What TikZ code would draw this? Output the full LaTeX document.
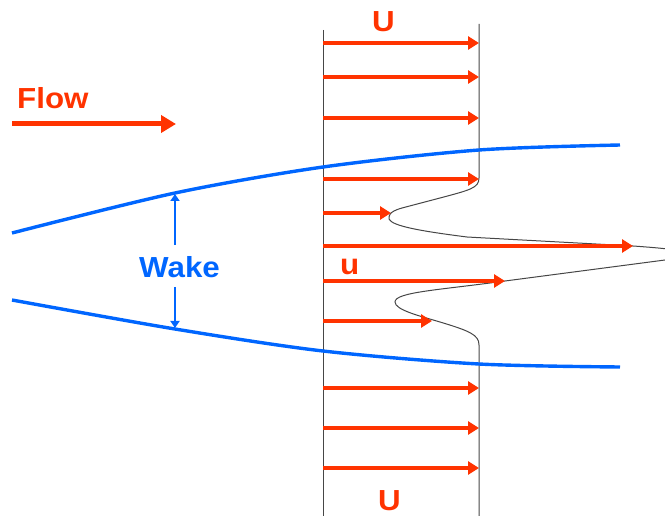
\documentclass[tikz,border=0pt]{standalone}
\usepackage{fontspec}
\setmainfont[FakeStretch=1.08]{Liberation Sans}
\usetikzlibrary{arrows.meta}
\definecolor{flowred}{RGB}{255,51,0}
\definecolor{wakeblue}{RGB}{0,102,255}
\definecolor{prof}{RGB}{70,70,70}
\tikzset{
  vel/.style={draw=flowred,line width=3.6pt,-{Triangle[length=11pt,width=13pt]}},
  flowarrow/.style={draw=flowred,line width=5pt,-{Triangle[length=15pt,width=17pt]}},
  edge/.style={draw=wakeblue,line width=3.4pt},
  wakearr/.style={draw=wakeblue,line width=2.6pt,-{Triangle[length=7pt,width=9pt]}},
  profline/.style={draw=prof,line width=1pt},
  lbl/.style={inner sep=0pt,anchor=base west,font=\bfseries\fontsize{29}{29}\selectfont},
}
\begin{document}
\begin{tikzpicture}[x=1pt,y=-1pt]
\useasboundingbox (0,0) rectangle (665,516);
\clip (0,0) rectangle (665,516);
% frame lines
\draw[profline] (323,30) -- (323,516);
\draw[profline] (479,24) -- (479,178)
  .. controls (479,188) and (470,190) .. (440,198) -- (402,208)
  .. controls (388,212) and (389,216) .. (389,219)
  .. controls (392,226) and (420,231) .. (467,237)
  -- (633,246) .. controls (705,251) and (705,256) .. (665,260)
  -- (505,281) .. controls (440,290) and (395,292) .. (395,302)
  .. controls (395,310) and (420,316) .. (440,322)
  .. controls (470,331) and (479,335) .. (479,345) -- (479,516);
% wake edges
\draw[edge] plot[smooth] coordinates {(12,233) (175,193) (323,167) (479,150) (620,145)};
\draw[edge] plot[smooth] coordinates {(12,300) (175,329) (323,351) (479,364) (620,367)};
% velocity arrows
\foreach \y/\x [count=\i] in {43/479,77/479,118/479,179/479,213/391,246/633,281/505,321/432,388/479,428/479,468/479}{
  \coordinate (s\i) at (323,\y);
  \coordinate (e\i) at (\x,\y);
  \draw[vel] (s\i) -- (e\i);
}
% labels
\node[lbl,text=flowred] (flow) at (17,109) {Flow};
\coordinate (fa) at (12,124);
\coordinate (fb) at (176,124);
\draw[flowarrow] (fa) -- (fb);
\node[lbl,text=flowred] (utop) at (372,32) {U};
\node[lbl,text=flowred] (ubot) at (378,510) {U};
\node[lbl,text=flowred] (umid) at (340,275) {u};
\node[lbl,text=wakeblue] (wake) at (139,277) {Wake};
\coordinate (w1) at (175,245);
\coordinate (w2) at (175,194);
\coordinate (w3) at (175,287);
\coordinate (w4) at (175,328);
\draw[wakearr] (w1) -- (w2);
\draw[wakearr] (w3) -- (w4);
\end{tikzpicture}
\end{document}
